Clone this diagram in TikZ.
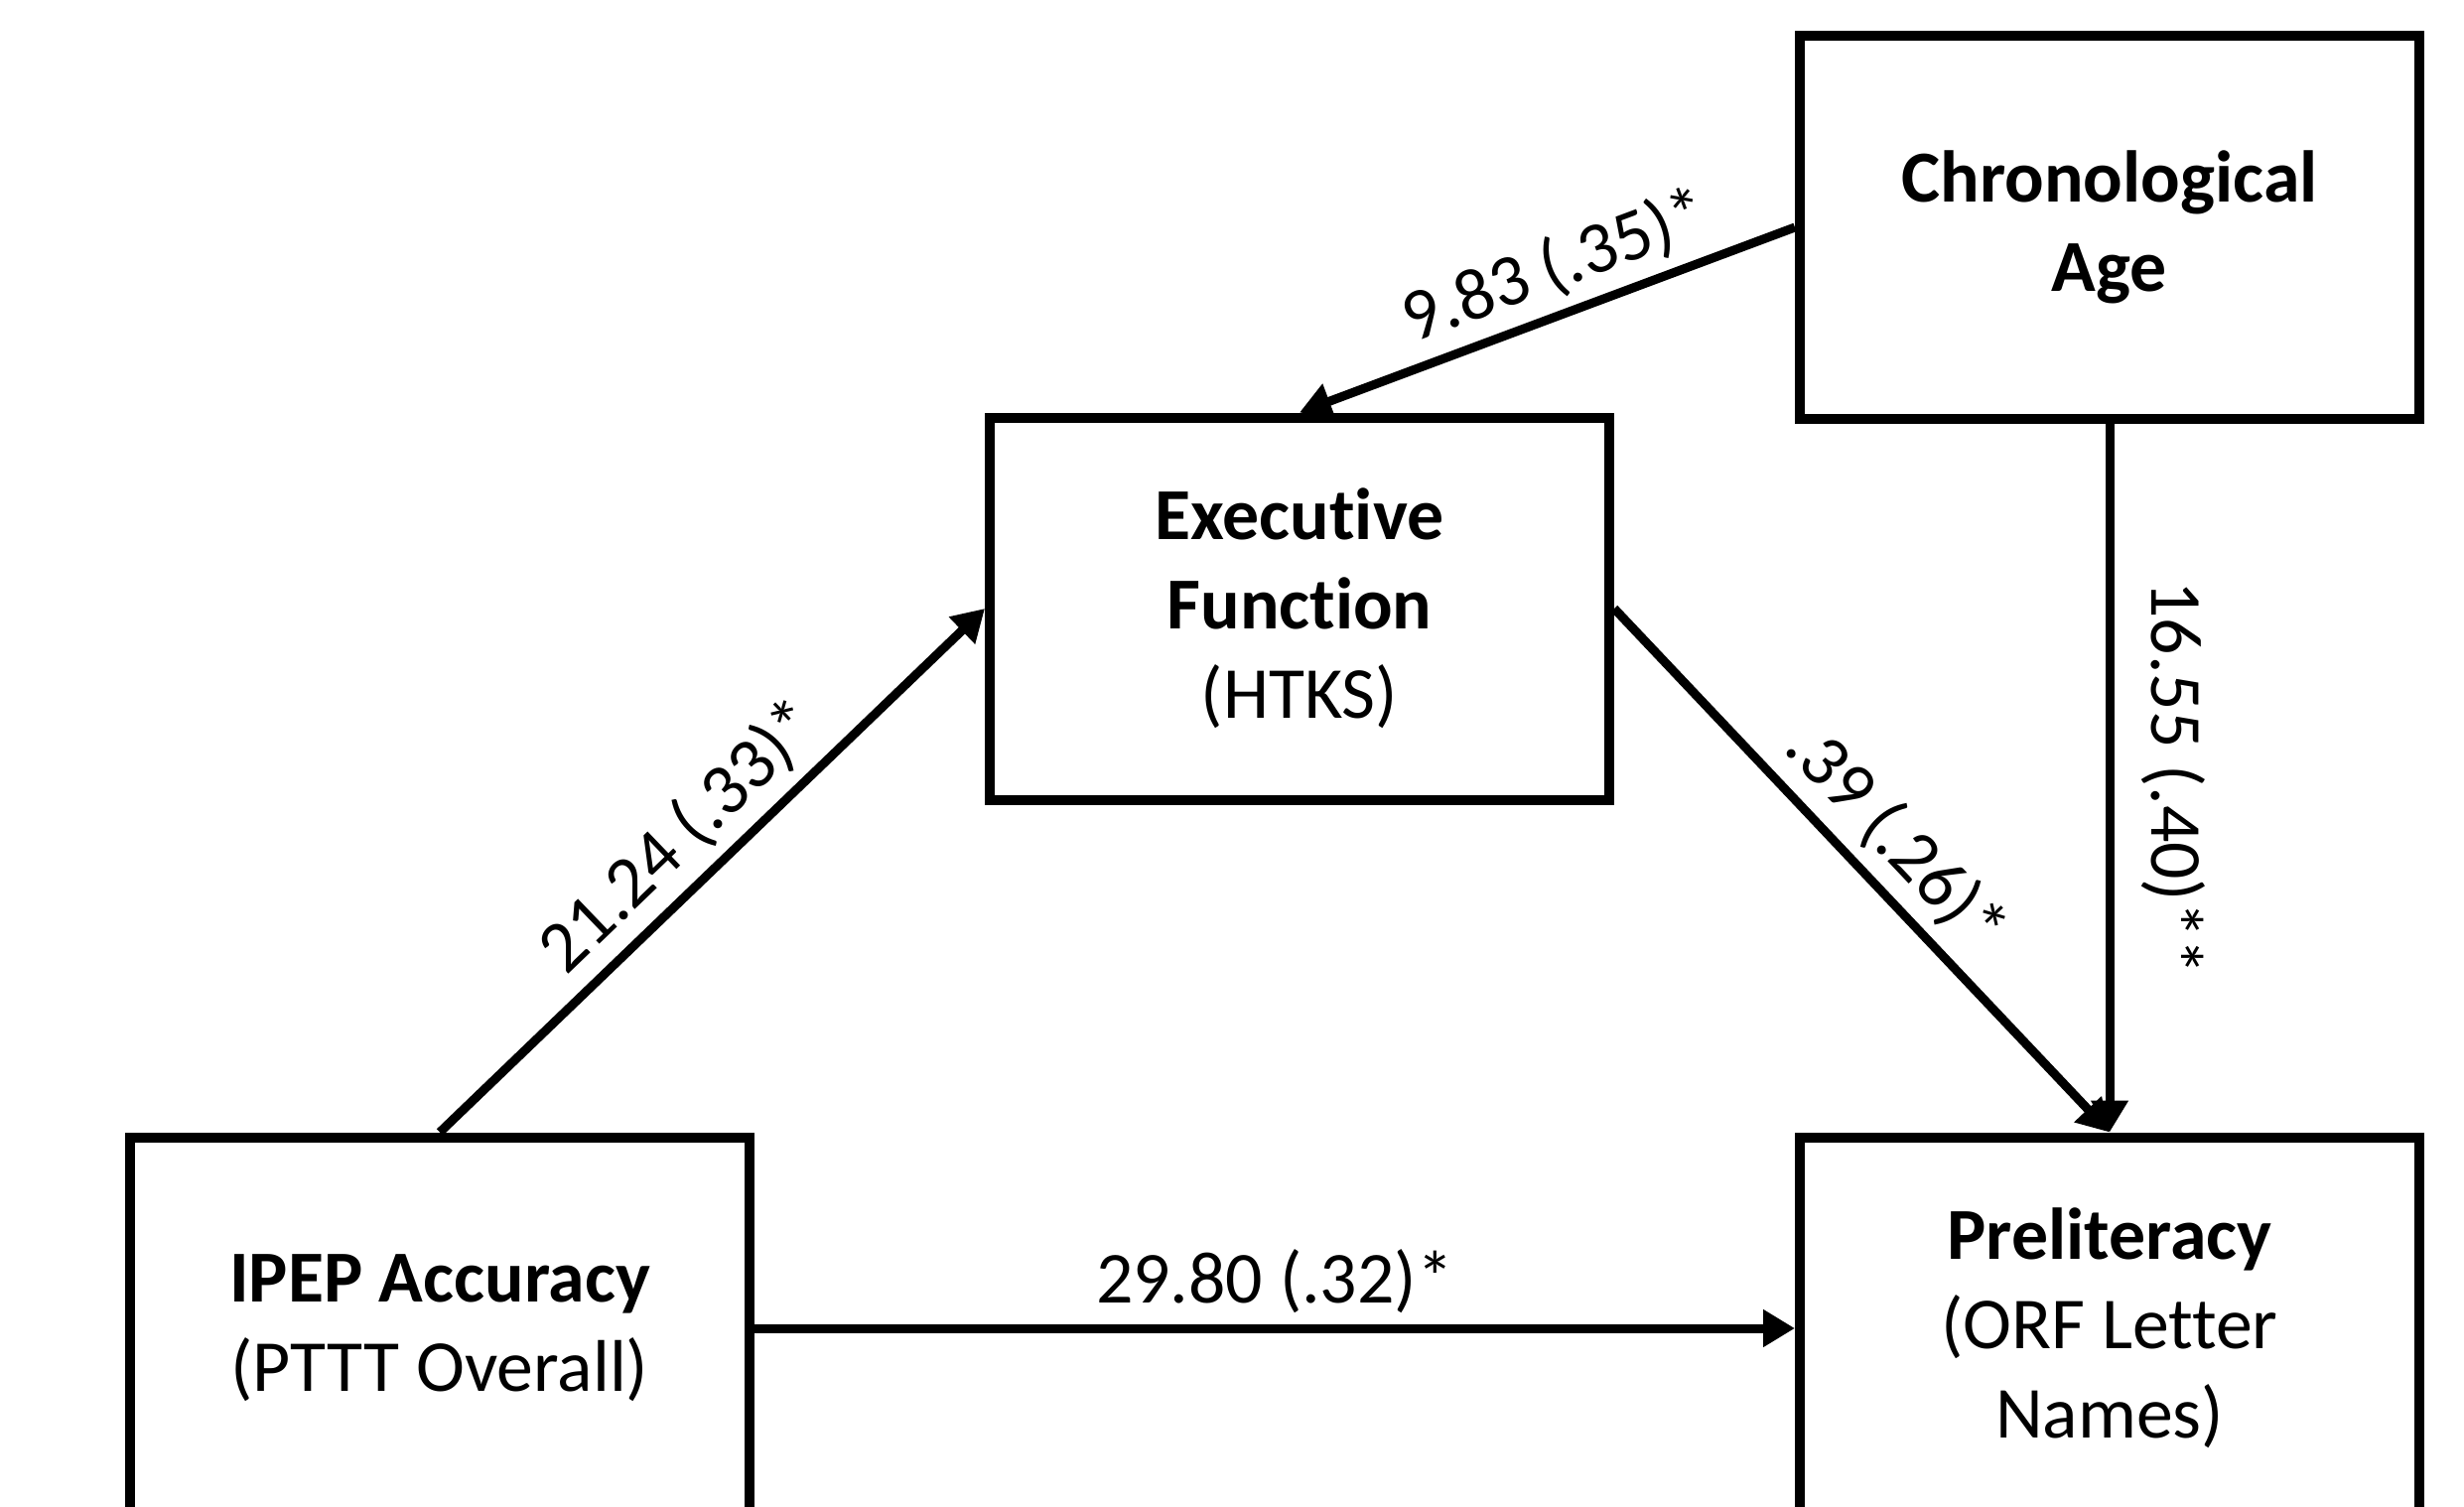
\documentclass[tikz,border=0pt]{standalone}
\usepackage{fontspec}
\setmainfont{Carlito}[Ligatures=NoCommon]
\usetikzlibrary{arrows.meta}

\begin{document}
\begin{tikzpicture}
\tikzstyle{mybox}=[draw=black,line width=0.1cm,minimum width=6.24cm,minimum height=3.85cm,inner sep=0,align=center,font=\fontsize{21}{25.6}\selectfont];
\tikzstyle{myarrow}=[line width=0.09cm,draw=black,-{Triangle[length=0.32cm,width=0.36cm]}];
\tikzstyle{mylabel}=[font=\fontsize{21}{25.6}\selectfont,sloped,inner sep=3pt];

\useasboundingbox (0,0) rectangle (24.82,15.17);
\clip (0,0) rectangle (24.82,15.17);

\node[mybox] (age) at (21.25,12.88) {\textbf{Chronological}\\ \textbf{Age}};
\node[mybox] (ef) at (13.09,9.04) {\textbf{Executive}\\ \textbf{Function}\\ (HTKS)};
\node[mybox] (ipep) at (4.43,1.79) {\textbf{IPEP Accuracy}\\ (PTTT Overall)};
\node[mybox] (pre) at (21.25,1.79) {\textbf{Preliteracy}\\ (ORF Letter\\ Names)};

\draw [myarrow] (ipep.north) -- (ef.west) node[mylabel,midway,above]{21.24 (.33)*};
\draw [myarrow] (age.west) -- (ef.north) node[mylabel,pos=0.45,above]{9.83 (.35)*};
\draw [myarrow] (ef.east) -- (pre.north) node[mylabel,midway,above]{.39 (.26)*};
\draw [myarrow] (age.south) -- (pre.north) node[mylabel,midway,above=5pt]{16.55 (.40)**};
\draw [myarrow] (ipep.east) -- (pre.west) node[mylabel,midway,above]{29.80 (.32)*};

\end{tikzpicture}
\end{document}
